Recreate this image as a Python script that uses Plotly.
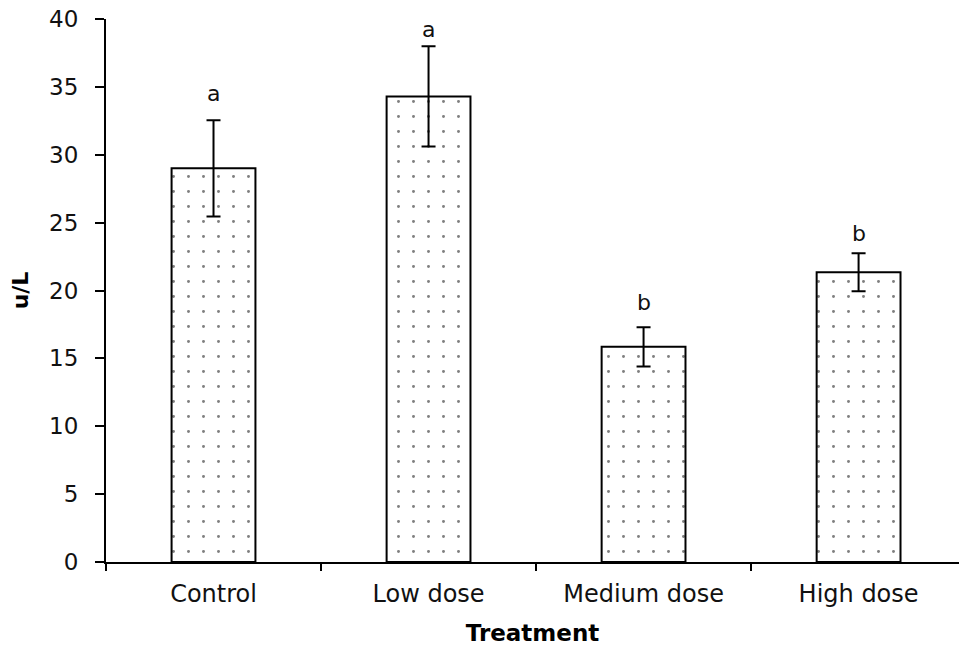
import plotly.graph_objects as go

categories = ["Control", "Low dose", "Medium dose", "High dose"]
means = [29.0, 34.3, 15.85, 21.35]
errors = [3.55, 3.7, 1.45, 1.4]
letters = ["a", "a", "b", "b"]
letter_y = [34.5, 39.2, 19.1, 24.2]
y_ticks = [0, 5, 10, 15, 20, 25, 30, 35, 40]

FONT = "DejaVu Sans"

fig = go.Figure()
fig.add_trace(go.Bar(
    x=categories,
    y=means,
    error_y=dict(type="data", array=errors, visible=True,
                 color="black", thickness=2, width=7),
    marker=dict(
        color="white",
        line=dict(color="black", width=2),
        pattern=dict(shape=".", fgcolor="black", bgcolor="white",
                     size=15, solidity=0.03, fillmode="overlay"),
    ),
    width=0.39,
    showlegend=False,
))

for c, t, yv in zip(categories, letters, letter_y):
    fig.add_annotation(x=c, y=yv, text=t, showarrow=False,
                       xref="x", yref="y", yanchor="middle",
                       font=dict(family=FONT, size=22, color="#111"))

fig.update_layout(
    width=959, height=646,
    margin=dict(l=106, r=0, t=19, b=84, pad=0),
    plot_bgcolor="white", paper_bgcolor="white",
    font=dict(family=FONT, color="black"),
    xaxis=dict(
        range=[-0.5, 3.467],
        showline=True, linecolor="black", linewidth=2,
        ticks="outside", tickson="boundaries", ticklen=7, tickwidth=2,
        tickcolor="black",
        tickfont=dict(family=FONT, size=24, color="#111"),
        ticklabelstandoff=9,
        showgrid=False, zeroline=False,
        title=dict(text="<b>Treatment</b>", font=dict(family=FONT, size=23),
                   standoff=20),
    ),
    yaxis=dict(
        range=[0, 40],
        tickvals=y_ticks,
        showline=True, linecolor="black", linewidth=2,
        ticks="outside", ticklen=9, tickwidth=2, tickcolor="black",
        tickfont=dict(family=FONT, size=23, color="#111"),
        ticklabelstandoff=12,
        showgrid=False, zeroline=False,
        title=dict(text="<b>u/L</b>", font=dict(family=FONT, size=22),
                   standoff=14),
    ),
)

fig.write_html("out.html")
